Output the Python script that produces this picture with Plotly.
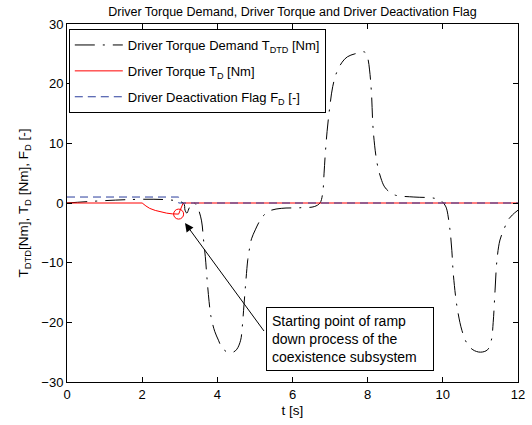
import plotly.graph_objects as go

# ---- data ----
t_dtd = [0.0, 3.09, 3.14, 3.19, 3.24, 3.32, 3.39, 3.49, 3.58, 3.63, 3.68, 3.73, 3.78, 3.83, 3.93,
         4.03, 4.12, 4.27, 4.42, 4.52, 4.62, 4.66, 4.71, 4.76, 4.81, 4.86, 4.91, 5.01, 5.11, 5.20,
         5.40, 5.70, 6.19, 6.58, 6.73, 6.80, 6.84, 6.87, 6.92, 6.99, 7.07, 7.17, 7.32, 7.46,
         7.66, 7.92, 8.00, 8.05, 8.10, 8.15, 8.25, 8.35, 8.45, 8.59, 8.74, 9.23, 9.77, 9.97,
         10.07, 10.11, 10.19, 10.24, 10.28, 10.38, 10.51, 10.64, 10.80, 11.00, 11.19, 11.29,
         11.34, 11.39, 11.44, 11.52, 11.64, 11.73, 11.85, 12.0]
v_dtd = [0.0, 0.0, -1.2, -1.7, -1.0, 0.0, 0.0, -1.0, -3.0, -6.0, -9.0, -13.0, -16.5, -19.0, -21.5,
         -23.0, -24.2, -25.0, -25.0, -24.5, -23.0, -21.0, -17.0, -13.0, -9.5, -7.5, -6.0, -4.5, -3.2, -2.3,
         -1.3, -0.9, -0.8, -0.6, 0.0, 1.5, 5.0, 8.0, 12.0, 16.0, 19.5, 21.8, 23.6, 24.5,
         25.0, 25.3, 24.3, 22.3, 18.5, 12.0, 6.7, 4.2, 2.7, 1.8, 1.3, 1.0, 0.8, 0.3,
         -0.5, -1.2, -4.5, -8.0, -12.0, -17.5, -21.4, -23.5, -24.6, -25.0, -24.6, -23.0,
         -20.0, -14.6, -9.6, -6.2, -4.2, -2.9, -2.0, -1.2]

t_td = [0.0, 2.0, 2.1, 2.2, 2.35, 2.5, 2.65, 2.8, 2.97, 3.09, 12.0]
v_td = [0.0, 0.0, -0.5, -0.9, -1.25, -1.5, -1.7, -1.82, -1.86, 0.0, 0.0]

t_fd = [0.0, 2.97, 2.97, 12.0]
v_fd = [1.0, 1.0, 0.0, 0.0]

marker_t = [2.97]
marker_v = [-1.86]

x_ticks = [0, 2, 4, 6, 8, 10, 12]
y_ticks = [-30, -20, -10, 0, 10, 20, 30]

title = "Driver Torque Demand, Driver Torque and Driver Deactivation Flag"
note = "Starting point of ramp<br>down process of the<br>coexistence subsystem"

FONT = "Liberation Sans, Arial, Helvetica, sans-serif"

fig = go.Figure()
fig.add_trace(go.Scatter(
    x=t_dtd, y=v_dtd, mode="lines", line_shape="spline", legendgroup="a",
    name="Driver Torque Demand T<sub>DTD</sub> [Nm]",
    line=dict(color="black", width=1, dash="20px,8px,2px,8px"),
))
fig.add_trace(go.Scatter(
    x=t_td, y=v_td, mode="lines", legendgroup="b",
    name="Driver Torque T<sub>D</sub> [Nm]",
    line=dict(color="#ff0000", width=1),
))
fig.add_trace(go.Scatter(
    x=t_fd, y=v_fd, mode="lines", legendgroup="c",
    name="Driver Deactivation Flag F<sub>D</sub> [-]",
    line=dict(color="#2a3c9c", width=1, dash="8px,5px"),
))
fig.add_trace(go.Scatter(
    x=marker_t, y=marker_v, mode="markers", showlegend=False,
    marker=dict(symbol="circle-open", size=10, color="#ff0000", line=dict(width=1)),
))

# arrow
fig.add_annotation(
    x=3.14, y=-3.36, ax=5.27, ay=-21.7, xref="x", yref="y", axref="x", ayref="y",
    text="", showarrow=True, arrowhead=2, arrowsize=1.7, arrowwidth=1, arrowcolor="black",
)
# text box
fig.add_annotation(
    x=5.29, y=-22.8, xref="x", yref="y", xanchor="left", yanchor="middle",
    text=note, showarrow=False, align="left", width=156,
    font=dict(family=FONT, size=14, color="black"),
    bordercolor="black", borderwidth=1, borderpad=5, bgcolor="white",
)

axis_common = dict(
    showgrid=False, zeroline=False, showline=True, linecolor="black", linewidth=1,
    mirror="ticks", ticks="inside", ticklen=5, tickcolor="black", automargin=False,
    tickfont=dict(family=FONT, size=13, color="black"),
)
fig.update_xaxes(range=[0, 12], tickvals=x_ticks,
                 title=dict(text="t [s]", font=dict(family=FONT, size=13.5, color="black"), standoff=4),
                 **axis_common)
fig.update_yaxes(range=[-30, 30], tickvals=y_ticks,
                 title=dict(text="T<sub>DTD</sub>[Nm], T<sub>D</sub> [Nm], F<sub>D</sub> [-]",
                            font=dict(family=FONT, size=13.5, color="black"), standoff=9),
                 **axis_common)

fig.update_layout(
    width=532, height=425,
    margin=dict(l=67, r=14, t=24, b=43),
    paper_bgcolor="white", plot_bgcolor="white",
    title=dict(text=title, x=(67 + 518) / 2 / 532, xanchor="center", y=0.973, yanchor="middle",
               font=dict(family=FONT, size=12.5, color="black")),
    legend=dict(x=0.004, y=0.986, xanchor="left", yanchor="top",
                bordercolor="black", borderwidth=1, bgcolor="white",
                font=dict(family=FONT, size=13, color="black"),
                tracegroupgap=6, itemwidth=48),
    showlegend=True,
)

fig.write_html("out.html", config={"displayModeBar": False},
               post_script="document.body.style.margin='0';")
